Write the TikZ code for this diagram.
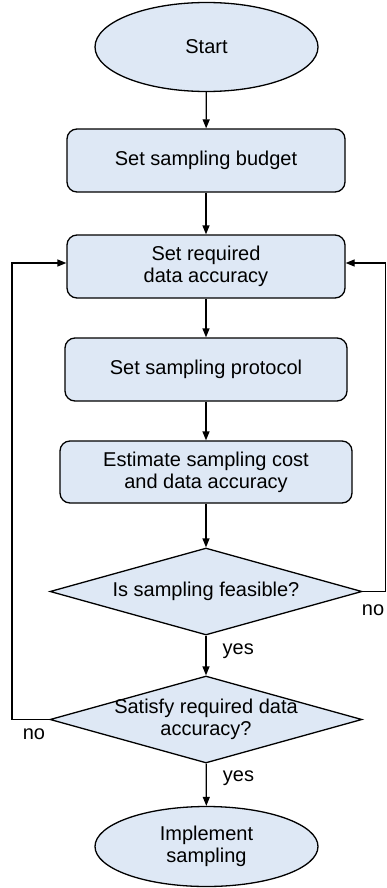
\documentclass[tikz,border=0pt]{standalone}
\usepackage{fontspec}
\setmainfont{Liberation Sans}
\usetikzlibrary{shapes.geometric,arrows.meta}
\definecolor{boxblue}{RGB}{222,232,245}
\begin{document}
\begin{tikzpicture}[x=1pt,y=-1pt,font=\fontsize{20}{22}\selectfont,
	every node/.style={inner sep=0pt,align=center},
	terminal/.style={ellipse,draw,fill=boxblue,line width=1.3pt,minimum width=223pt},
	process/.style={rectangle,rounded corners=10pt,draw,fill=boxblue,line width=1.3pt,minimum height=63pt},
	decision/.style={diamond,aspect=3.59,inner sep=-4pt,draw,fill=boxblue,line width=1.3pt,minimum width=312pt,minimum height=87pt},
	flow/.style={-{Triangle[length=9pt,width=7pt]},line width=1.3pt}]
	\useasboundingbox (0,0) rectangle (387,888);
	\node[terminal,minimum height=89pt] (start) at (206.5,47) {Start};
	\node[process,minimum width=278pt] (budget) at (206,160.5) {Set sampling budget};
	\node[process,minimum width=278pt] (accuracy) at (206,266.5) {Set required\\data accuracy};
	\node[process,minimum width=282pt] (protocol) at (206,369.5) {Set sampling protocol};
	\node[process,minimum width=292pt,minimum height=62pt] (estimate) at (206,472) {Estimate sampling cost\\and data accuracy};
	\node[decision] (feasible) at (206,591.5) {Is sampling feasible?};
	\node[decision] (satisfy) at (206,719.5) {Satisfy required data\\accuracy?};
	\node[terminal,minimum height=80pt] (implement) at (206.5,846.5) {Implement\\sampling};
	\coordinate (rightturn) at (385.5,591.5);
	\coordinate (leftturn) at (12,719.5);
	\draw[flow] (start) -- (budget);
	\draw[flow] (budget) -- (accuracy);
	\draw[flow] (accuracy) -- (protocol);
	\draw[flow] (protocol) -- (estimate);
	\draw[flow] (estimate) -- (feasible);
	\draw[flow] (feasible) -- node[pos=0.4,right=16pt] (feasibleyes) {yes} (satisfy);
	\draw[flow] (satisfy) -- node[pos=0.35,right=16pt] (satisfyyes) {yes} (implement);
	\draw[flow] (feasible.east) -- (rightturn) |- ([yshift=3.5pt]accuracy.east);
	\draw[flow] (satisfy.west) -- (leftturn) |- ([yshift=3.5pt]accuracy.west);
	\node (feasibleno) at (373,610) {no};
	\node (satisfyno) at (34,734) {no};
\end{tikzpicture}
\end{document}
